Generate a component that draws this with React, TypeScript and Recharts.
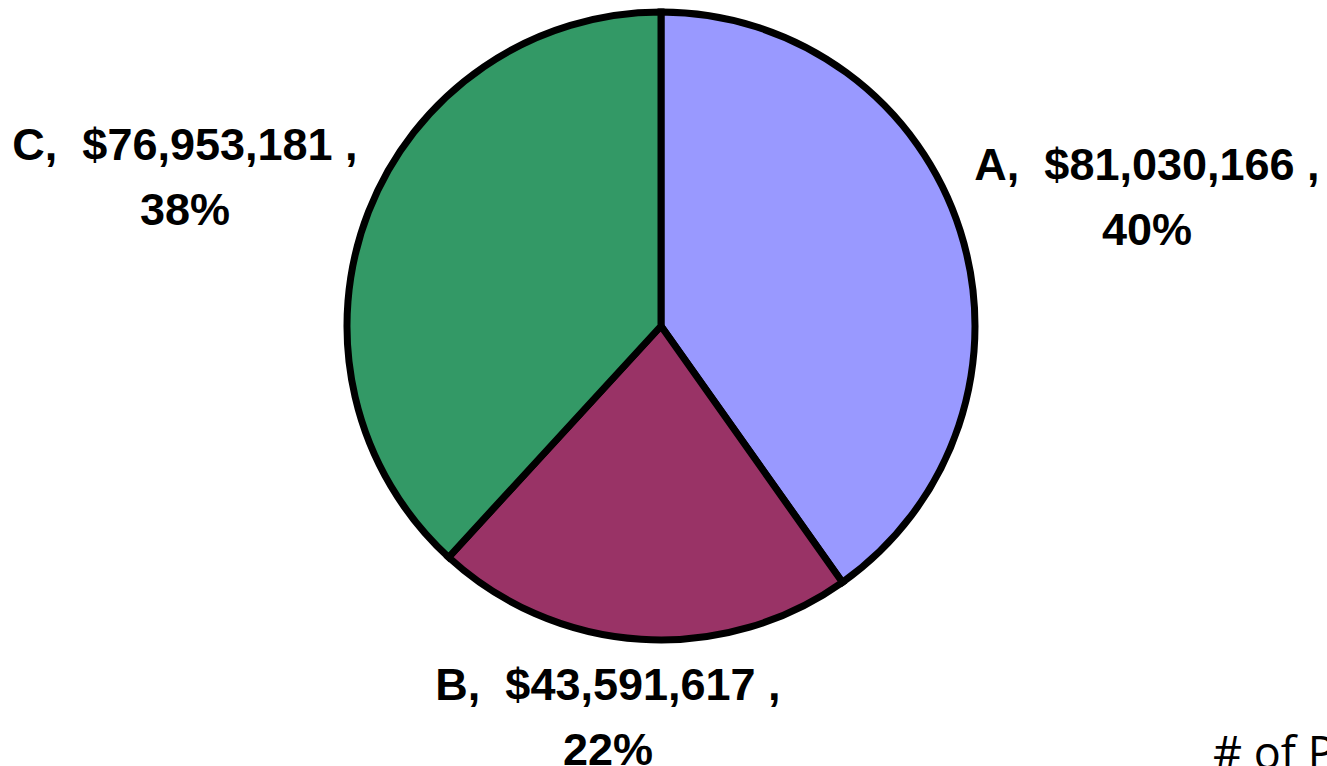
import { PieChart, Pie, Cell } from "recharts"

const categories = ["A", "B", "C"]
const amounts = [81030166, 43591617, 76953181]
const colors = ["#9999FF", "#993366", "#339966"]

const data = categories.map((name, i) => ({ name, value: amounts[i] }))

// label placement relative to pie centre: x offset, baselines of the two lines
const labelPos: Record<string, { dx: number; dy1: number; dy2: number }> = {
  A: { dx: 486, dy1: -146, dy2: -81 },
  B: { dx: -53, dy1: 374, dy2: 439 },
  C: { dx: -476, dy1: -166, dy2: -101 },
}

const font = "'Liberation Sans', Arial, sans-serif"

function renderLabel(props: any) {
  const { cx, cy, name, value, percent } = props
  const p = labelPos[name]
  const x = cx + p.dx
  const style = { whiteSpace: "pre" as const }
  return (
    <g>
      <text
        x={x}
        y={cy + p.dy1}
        textAnchor="middle"
        fontFamily={font}
        fontWeight="bold"
        fontSize={45}
        fill="#000"
        style={style}
      >
        {`${name},  $${Number(value).toLocaleString("en-US")} ,`}
      </text>
      <text
        x={x}
        y={cy + p.dy2}
        textAnchor="middle"
        fontFamily={font}
        fontWeight="bold"
        fontSize={45}
        fill="#000"
      >
        {`${Math.round(percent * 100)}%`}
      </text>
    </g>
  )
}

export default function App() {
  return (
    <div style={{ position: "absolute", left: 0, top: 0, width: 1327, height: 766, overflow: "hidden", background: "#fff" }}>
      <PieChart width={1327} height={766} margin={{ top: 0, right: 0, bottom: 0, left: 0 }}>
        <Pie
          data={data}
          dataKey="value"
          nameKey="name"
          cx={661}
          cy={326}
          outerRadius={314}
          startAngle={90}
          endAngle={-270}
          stroke="#000"
          strokeWidth={7}
          label={renderLabel}
          labelLine={false}
          isAnimationActive={false}
        >
          {data.map((d, i) => (
            <Cell key={d.name} fill={colors[i]} stroke="#000" strokeWidth={7} />
          ))}
        </Pie>
      </PieChart>
      <div
        style={{
          position: "absolute",
          left: 1213,
          top: 722,
          fontFamily: "'Open Sans', 'Noto Sans', sans-serif",
          fontSize: 45,
          lineHeight: "60px",
          color: "#000",
          whiteSpace: "nowrap",
        }}
      >
        # of Projects
      </div>
    </div>
  )
}
